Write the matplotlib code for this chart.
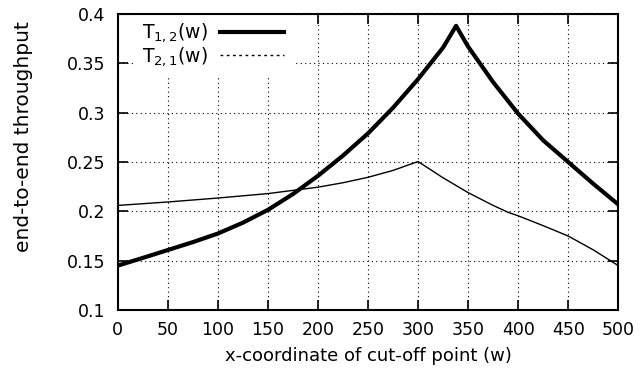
import numpy as np
import matplotlib.pyplot as plt
from matplotlib.lines import Line2D

plt.rcParams['font.family'] = ['DejaVu Sans']
plt.rcParams['mathtext.fontset'] = 'dejavusans'

# T_{1,2}(w), thick curve
w12 = [0, 25, 50, 75, 100, 125, 150, 175, 200, 225, 250, 275, 300, 325, 338,
       350, 375, 400, 425, 450, 475, 500]
t12 = [0.145, 0.1528, 0.1608, 0.1688, 0.1775, 0.1885, 0.2015, 0.2175, 0.236,
       0.2565, 0.279, 0.305, 0.334, 0.366, 0.388, 0.367, 0.331, 0.299, 0.272,
       0.250, 0.228, 0.207]

# T_{2,1}(w), thin curve
w21 = [0, 50, 100, 150, 200, 225, 250, 275, 300, 325, 350, 375, 390, 400,
       425, 450, 475, 500]
t21 = [0.206, 0.2095, 0.2135, 0.218, 0.2245, 0.229, 0.2345, 0.2415, 0.2505,
       0.234, 0.219, 0.206, 0.199, 0.1955, 0.1855, 0.175, 0.161, 0.145]

fig = plt.figure(figsize=(6.4, 3.79), dpi=100)
ax = fig.add_axes([0.184, 0.182, 0.782, 0.781])

ax.plot(w12, t12, color='black', lw=3.0, zorder=3)
ax.plot(w21, t21, color='black', lw=1.0, zorder=3)

ax.set_xlim(0, 500)
ax.set_ylim(0.1, 0.4)
ax.set_xticks(np.arange(0, 501, 50))
ax.set_yticks([0.1, 0.15, 0.2, 0.25, 0.3, 0.35, 0.4])
ax.set_yticklabels(['0.1', '0.15', '0.2', '0.25', '0.3', '0.35', '0.4'])
ax.tick_params(direction='in', length=7, width=1.2, top=True, right=True,
               labelsize=12.5, colors='black')
ax.tick_params(axis='y', pad=9)
ax.tick_params(axis='x', pad=8)
for s in ax.spines.values():
    s.set_linewidth(1.5)

ax.grid(True, color='black', linestyle=(0, (1, 3)), linewidth=0.8)
ax.set_axisbelow(True)

ax.set_xlabel('x-coordinate of cut-off point (w)', fontsize=13, labelpad=6)
ax.set_ylabel('end-to-end throughput', fontsize=14.5)
ax.yaxis.set_label_coords(-0.17, 0.585)

handles = [Line2D([], [], color='black', lw=3.0),
           Line2D([], [], color='black', lw=1.0, linestyle=(0, (2, 2.5)))]
leg = ax.legend(handles, ['T$_{1,2}$(w)', 'T$_{2,1}$(w)'], loc='upper left',
                bbox_to_anchor=(0.034, 1.0), markerfirst=False, fontsize=13.5,
                handlelength=3.4, handletextpad=0.65, labelspacing=0.05,
                borderpad=0.4, borderaxespad=0.0, frameon=True, fancybox=False)
leg.get_frame().set_facecolor('white')
leg.get_frame().set_edgecolor('white')
leg.get_frame().set_alpha(1)
leg.set_zorder(2)

fig.savefig('out.png', dpi=100)
